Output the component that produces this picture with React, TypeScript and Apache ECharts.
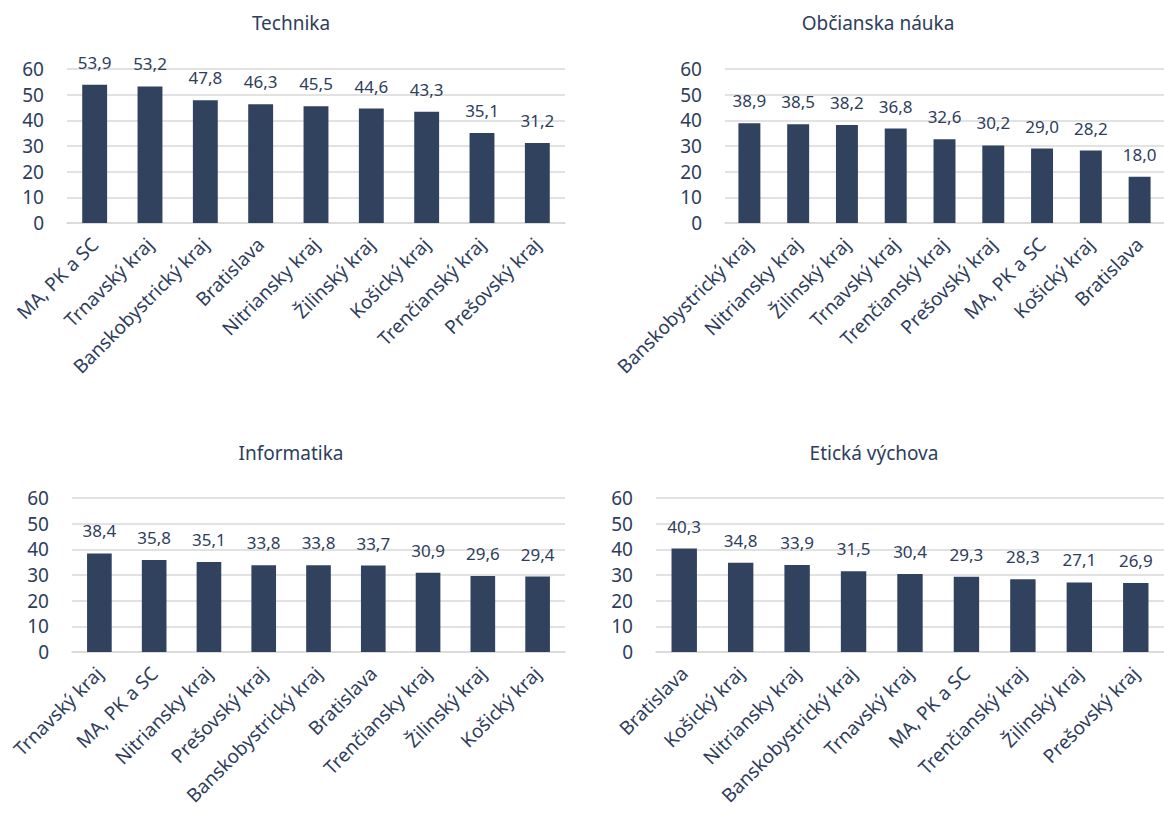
import React, { useEffect, useRef } from "react";
import * as echarts from "echarts";

const techCats = ["MA, PK a SC", "Trnavský kraj", "Banskobystrický kraj", "Bratislava", "Nitriansky kraj", "Žilinský kraj", "Košický kraj", "Trenčianský kraj", "Prešovský kraj"];
const techVals = [53.9, 53.2, 47.8, 46.3, 45.5, 44.6, 43.3, 35.1, 31.2];

const obcCats = ["Banskobystrický kraj", "Nitriansky kraj", "Žilinský kraj", "Trnavský kraj", "Trenčianský kraj", "Prešovský kraj", "MA, PK a SC", "Košický kraj", "Bratislava"];
const obcVals = [38.9, 38.5, 38.2, 36.8, 32.6, 30.2, 29.0, 28.2, 18.0];

const infCats = ["Trnavský kraj", "MA, PK a SC", "Nitriansky kraj", "Prešovský kraj", "Banskobystrický kraj", "Bratislava", "Trenčiansky kraj", "Žilinský kraj", "Košický kraj"];
const infVals = [38.4, 35.8, 35.1, 33.8, 33.8, 33.7, 30.9, 29.6, 29.4];

const etiCats = ["Bratislava", "Košický kraj", "Nitriansky kraj", "Banskobystrický kraj", "Trnavský kraj", "MA, PK a SC", "Trenčianský kraj", "Žilinský kraj", "Prešovský kraj"];
const etiVals = [40.3, 34.8, 33.9, 31.5, 30.4, 29.3, 28.3, 27.1, 26.9];

const titles = ["Technika", "Občianska náuka", "Informatika", "Etická výchova"];
const yTicks = { min: 0, max: 60, interval: 10 };

const FONT = "'Noto Sans', 'Open Sans', sans-serif";
const TEXT = "#2E3D5C";
const BAR = "#31425F";
const GRID = "#D9D9D9";

export default function App() {
  const ref = useRef<HTMLDivElement>(null);
  useEffect(() => {
    if (!ref.current) return;
    const chart = echarts.init(ref.current, undefined, { renderer: "svg" });
    const panels = [
      { cats: techCats, vals: techVals, grid: { left: 67, top: 69, width: 498, height: 154 }, tx: 291, ty: 23 },
      { cats: obcCats, vals: obcVals, grid: { left: 725, top: 69, width: 444, height: 154 }, tx: 878, ty: 23 },
      { cats: infCats, vals: infVals, grid: { left: 72, top: 498, width: 493, height: 154 }, tx: 291, ty: 453 },
      { cats: etiCats, vals: etiVals, grid: { left: 656, top: 498, width: 513, height: 154 }, tx: 874, ty: 453 },
    ];
    const option: any = {
      animation: false,
      backgroundColor: "#ffffff",
      textStyle: { fontFamily: FONT },
      grid: panels.map((p) => ({ ...p.grid, containLabel: false })),
      xAxis: panels.map((p, i) => ({
        type: "category",
        gridIndex: i,
        data: p.cats,
        axisLine: { show: true, lineStyle: { color: GRID, width: 1.5 } },
        axisTick: { show: false },
        axisLabel: {
          interval: 0,
          rotate: 45,
          margin: 18,
          padding: [30, 0, 0, 0],
          color: TEXT,
          fontSize: 19,
          fontFamily: FONT,
        },
      })),
      yAxis: panels.map((p, i) => ({
        type: "value",
        gridIndex: i,
        min: yTicks.min,
        max: yTicks.max,
        interval: yTicks.interval,
        axisLine: { show: false },
        axisTick: { show: false },
        splitLine: { lineStyle: { color: GRID, width: 1.5 } },
        axisLabel: { color: TEXT, fontSize: 19, margin: 23, fontFamily: FONT },
      })),
      series: panels.map((p, i) => ({
        type: "bar",
        xAxisIndex: i,
        yAxisIndex: i,
        data: p.vals,
        barCategoryGap: "55%",
        itemStyle: { color: BAR },
        label: {
          show: true,
          position: "top",
          distance: 14,
          color: TEXT,
          fontSize: 17,
          fontFamily: FONT,
          formatter: (d: any) => Number(d.value).toFixed(1).replace(".", ","),
        },
      })),
      graphic: panels.map((p, i) => ({
        type: "text",
        x: p.tx,
        y: p.ty,
        style: {
          text: titles[i],
          fill: TEXT,
          fontSize: 19,
          fontFamily: FONT,
          textAlign: "center",
          textVerticalAlign: "middle",
        },
      })),
    };
    chart.setOption(option);
    return () => chart.dispose();
  }, []);
  return <div ref={ref} style={{ position: "fixed", left: 0, top: 0, width: 1164, height: 817 }} />;
}
